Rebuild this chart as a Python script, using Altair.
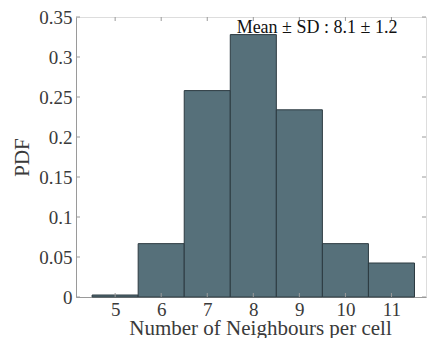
import altair as alt
import pandas as pd

# Histogram of neighbour counts (normalised to a PDF)
neighbours = [5, 6, 7, 8, 9, 10, 11]
pdf_values = [0.0025, 0.0667, 0.258, 0.328, 0.234, 0.0667, 0.0425]
x_ticks = [5, 6, 7, 8, 9, 10, 11]
y_ticks = [0, 0.05, 0.1, 0.15, 0.2, 0.25, 0.3, 0.35]
annotation = "Mean \u00b1 SD : 8.1 \u00b1 1.2"

FONT = "Liberation Serif"
BAR_FILL = "#56707a"
BAR_EDGE = "#2c3a40"
AXIS_GREY = "#9a9a9a"
TEXT_GREY = "#3a3a3a"

W, H = 350, 280

bars_df = pd.DataFrame({
    "start": [n - 0.5 for n in neighbours],
    "end": [n + 0.5 for n in neighbours],
    "pdf": pdf_values,
})
xt_df = pd.DataFrame({"t": x_ticks})
yt_df = pd.DataFrame({"t": y_ticks})

x_scale = alt.Scale(domain=[4.15, 11.75], nice=False, zero=False)
y_scale = alt.Scale(domain=[0, 0.35], nice=False)

x_axis = alt.Axis(
    values=x_ticks, ticks=False, grid=False, domainColor=AXIS_GREY,
    labelFont=FONT, labelFontSize=19, labelColor=TEXT_GREY, labelPadding=3,
    labelOverlap=False,
    title="Number of Neighbours per cell", titleFont=FONT, titleFontSize=21,
    titleFontWeight="normal", titleColor=TEXT_GREY,
    titleBaseline="alphabetic", titleY=37, titleX=184,
)
y_axis = alt.Axis(
    values=y_ticks, ticks=False, grid=False, domainColor=AXIS_GREY,
    labelFont=FONT, labelFontSize=19, labelColor=TEXT_GREY, labelPadding=4,
    labelOverlap=False,
    labelExpr="datum.value == 0 ? '0' : format(datum.value, '.2~f')",
    title="PDF", titleFont=FONT, titleFontSize=21, titleFontWeight="normal",
    titleColor=TEXT_GREY, titlePadding=6,
)

bars = alt.Chart(bars_df).mark_rect(
    fill=BAR_FILL, stroke=BAR_EDGE, strokeWidth=1
).encode(
    x=alt.X("start:Q", scale=x_scale, axis=x_axis),
    x2="end:Q",
    y=alt.Y("pdf:Q", scale=y_scale, axis=y_axis),
    y2=alt.datum(0),
)

# inward tick marks on all four sides
tick_style = dict(color=AXIS_GREY, strokeWidth=1)
x_bottom = alt.Chart(xt_df).mark_rule(**tick_style).encode(
    x=alt.X("t:Q", scale=x_scale, axis=x_axis), y=alt.value(H), y2=alt.value(H - 4))
x_top = alt.Chart(xt_df).mark_rule(**tick_style).encode(
    x=alt.X("t:Q", scale=x_scale, axis=x_axis), y=alt.value(0), y2=alt.value(4))
y_left = alt.Chart(yt_df).mark_rule(**tick_style).encode(
    y=alt.Y("t:Q", scale=y_scale, axis=y_axis), x=alt.value(0), x2=alt.value(4))
y_right = alt.Chart(yt_df).mark_rule(**tick_style).encode(
    y=alt.Y("t:Q", scale=y_scale, axis=y_axis), x=alt.value(W), x2=alt.value(W - 4))

label = alt.Chart(pd.DataFrame({"txt": [annotation]})).mark_text(
    font=FONT, fontSize=18, color="#111111", align="center", baseline="middle"
).encode(text="txt:N", x=alt.value(241), y=alt.value(11))

chart = alt.layer(bars, x_bottom, x_top, y_left, y_right, label).properties(
    width=W, height=H,
    autosize=alt.AutoSizeParams(type="none"),
    padding={"left": 76, "top": 17, "right": 4, "bottom": 41},
).configure_view(stroke=AXIS_GREY, strokeWidth=1).configure(background="white")

chart.save("out.html", embed_options={"renderer": "svg", "actions": False})
